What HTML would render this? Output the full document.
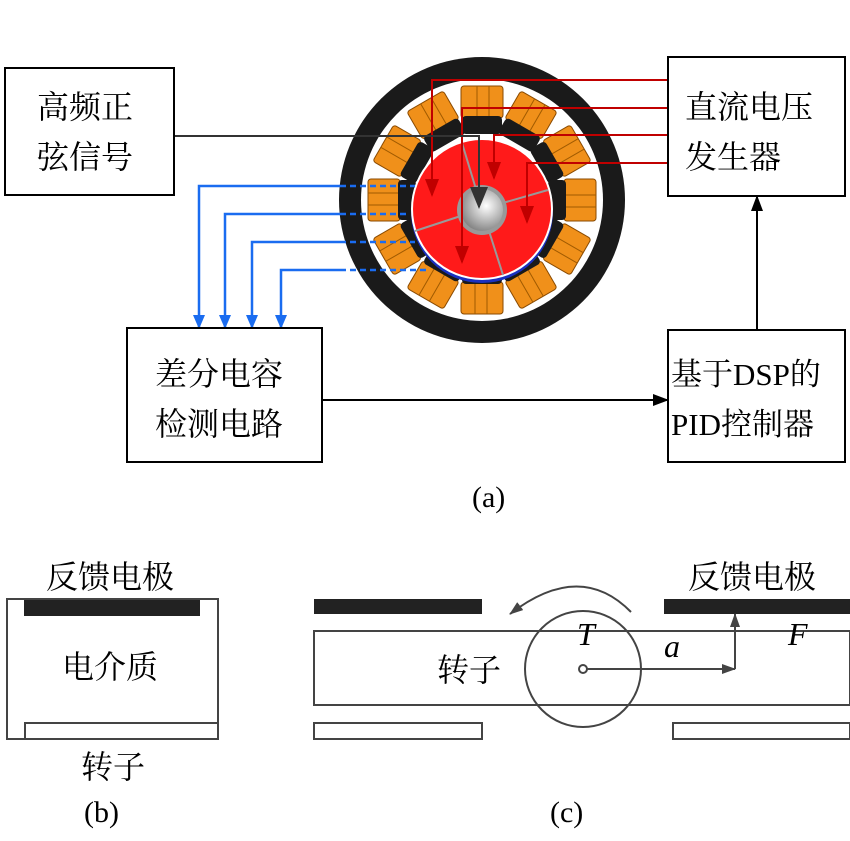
<!DOCTYPE html>
<html><head><meta charset="utf-8"><style>
body{margin:0;background:#fff}
svg text{font-family:"Liberation Serif","Noto Serif CJK SC",serif;fill:#000}
</style></head><body>
<svg width="850" height="836" viewBox="0 0 850 836" xmlns="http://www.w3.org/2000/svg">
<defs>
<marker id="ab" markerWidth="16" markerHeight="12" refX="15" refY="6" orient="auto" markerUnits="userSpaceOnUse"><path d="M0,0 L16,6 L0,12z" fill="#000"/></marker>
<marker id="ag" markerWidth="14" markerHeight="10" refX="13" refY="5" orient="auto" markerUnits="userSpaceOnUse"><path d="M0,0 L14,5 L0,10z" fill="#444"/></marker>
<marker id="abl" markerWidth="14" markerHeight="12" refX="13" refY="6" orient="auto" markerUnits="userSpaceOnUse"><path d="M0,0 L14,6 L0,12z" fill="#1a6cf0"/></marker>
<marker id="ar" markerWidth="18" markerHeight="14" refX="16" refY="7" orient="auto" markerUnits="userSpaceOnUse"><path d="M0,0 L18,7 L0,14z" fill="#c00000"/></marker>
<marker id="ak" markerWidth="22" markerHeight="18" refX="20" refY="9" orient="auto" markerUnits="userSpaceOnUse"><path d="M0,0 L22,9 L0,18z" fill="#333"/></marker>
<radialGradient id="ball" cx="0.6" cy="0.4" r="0.7"><stop offset="0" stop-color="#fff"/><stop offset="1" stop-color="#777"/></radialGradient>
<g id="c"><rect x="-21" y="-114" width="42" height="32" rx="3" fill="#f0901a" stroke="#8a4a00" stroke-width="1"/><line x1="-5" y1="-114" x2="-5" y2="-82" stroke="#a05a00"/><line x1="7" y1="-114" x2="7" y2="-82" stroke="#a05a00"/><rect x="-20" y="-84" width="40" height="18" rx="4" fill="#1a1a1a"/></g>
</defs>
<!-- motor -->
<circle cx="482" cy="200" r="143" fill="#1a1a1a"/>
<circle cx="482" cy="200" r="121" fill="#fff"/>
<g transform="translate(482,200)">
<use href="#c" transform="rotate(0)"/><use href="#c" transform="rotate(30)"/><use href="#c" transform="rotate(60)"/>
<use href="#c" transform="rotate(90)"/><use href="#c" transform="rotate(120)"/><use href="#c" transform="rotate(150)"/>
<use href="#c" transform="rotate(180)"/><use href="#c" transform="rotate(210)"/><use href="#c" transform="rotate(240)"/>
<use href="#c" transform="rotate(270)"/><use href="#c" transform="rotate(300)"/><use href="#c" transform="rotate(330)"/>
</g>
<circle cx="482" cy="212" r="71" fill="#1a30c0"/>
<circle cx="482" cy="209" r="70" fill="#ff1a1a" stroke="#fff" stroke-width="2"/>
<g stroke="#999" stroke-width="2">
<line x1="482" y1="209" x2="462" y2="143"/><line x1="482" y1="209" x2="548" y2="190"/>
<line x1="482" y1="209" x2="503" y2="275"/><line x1="482" y1="209" x2="415" y2="231"/>
</g>
<circle cx="482" cy="210" r="25" fill="#999"/>
<circle cx="482" cy="210" r="21" fill="url(#ball)"/>
<!-- red lines -->
<g stroke="#c00000" stroke-width="2" fill="none">
<polyline points="668,80 432,80 432,195" marker-end="url(#ar)"/>
<polyline points="668,108 462,108 462,262" marker-end="url(#ar)"/>
<polyline points="668,135 494,135 494,178" marker-end="url(#ar)"/>
<polyline points="668,163 527,163 527,222" marker-end="url(#ar)"/>
</g>
<polyline points="174,136 479,136 479,207" stroke="#333" stroke-width="2" fill="none" marker-end="url(#ak)"/>
<!-- blue lines -->
<g stroke="#1a6cf0" stroke-width="2.5" fill="none">
<polyline points="340,186 199,186 199,328" marker-end="url(#abl)"/>
<polyline points="340,214 225,214 225,328" marker-end="url(#abl)"/>
<polyline points="340,242 252,242 252,328" marker-end="url(#abl)"/>
<polyline points="340,270 281,270 281,328" marker-end="url(#abl)"/>
<g stroke-dasharray="6,4"><line x1="340" y1="186" x2="415" y2="186"/><line x1="340" y1="214" x2="408" y2="214"/><line x1="340" y1="242" x2="415" y2="242"/><line x1="340" y1="270" x2="428" y2="270"/></g>
</g>
<!-- boxes -->
<g fill="#fff" stroke="#000" stroke-width="2">
<rect x="5" y="68" width="169" height="127"/>
<rect x="668" y="57" width="177" height="139"/>
<rect x="127" y="328" width="195" height="134"/>
<rect x="668" y="330" width="177" height="132"/>
</g>
<g font-size="32">
<text x="37" y="118">高频正</text><text x="37" y="168">弦信号</text>
<text x="685" y="118">直流电压</text><text x="685" y="168">发生器</text>
<text x="155" y="385">差分电容</text><text x="155" y="435">检测电路</text>
<text x="671" y="385" font-size="31">基于DSP的</text><text x="671" y="435" font-size="31">PID控制器</text>
</g>
<line x1="322" y1="400" x2="668" y2="400" stroke="#000" stroke-width="2" marker-end="url(#ab)"/>
<line x1="757" y1="330" x2="757" y2="196" stroke="#000" stroke-width="2" marker-end="url(#ab)"/>
<text x="472" y="507" font-size="30">(a)</text>
<!-- b -->
<rect x="7" y="599" width="211" height="140" fill="none" stroke="#444" stroke-width="2"/>
<rect x="24" y="600" width="176" height="16" fill="#222"/>
<rect x="25" y="723" width="193" height="16" fill="none" stroke="#444" stroke-width="2"/>
<g font-size="32">
<text x="46" y="588">反馈电极</text>
<text x="62" y="678">电介质</text>
<text x="81" y="778">转子</text>
<text x="688" y="588">反馈电极</text>
<text x="437" y="681">转子</text>
</g>
<g font-size="30"><text x="84" y="822">(b)</text><text x="550" y="822">(c)</text></g>
<!-- c -->
<rect x="314" y="599" width="168" height="15" fill="#222"/>
<rect x="664" y="599" width="186" height="15" fill="#222"/>
<rect x="314" y="631" width="536" height="74" fill="none" stroke="#444" stroke-width="2"/>
<rect x="314" y="723" width="168" height="16" fill="none" stroke="#444" stroke-width="2"/>
<rect x="673" y="723" width="177" height="16" fill="none" stroke="#444" stroke-width="2"/>
<circle cx="583" cy="669" r="58" fill="none" stroke="#444" stroke-width="2"/>
<circle cx="583" cy="669" r="4" fill="none" stroke="#444" stroke-width="2"/>
<line x1="587" y1="669" x2="735" y2="669" stroke="#444" stroke-width="2" marker-end="url(#ag)"/>
<line x1="735" y1="669" x2="735" y2="614" stroke="#444" stroke-width="2" marker-end="url(#ag)"/>
<path d="M631,612 Q580,560 510,614" fill="none" stroke="#444" stroke-width="2" marker-end="url(#ag)"/>
<g font-size="32" font-style="italic">
<text x="577" y="645">T</text><text x="664" y="657">a</text><text x="788" y="645">F</text>
</g>
</svg>
</body></html>
